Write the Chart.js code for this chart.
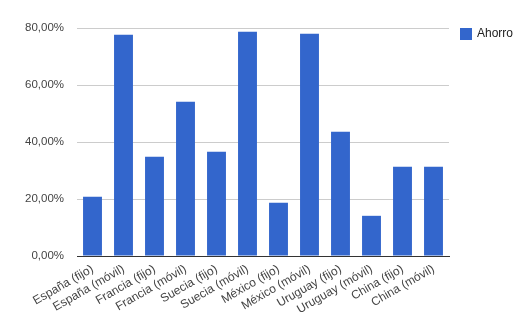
<!DOCTYPE html>
<html>
<head>
<meta charset="utf-8">
<script src="https://cdn.jsdelivr.net/npm/chart.js@4"></script>
<style>
  html, body { margin: 0; padding: 0; background: #fff; }
  #wrap { position: relative; width: 528px; height: 324px; }
</style>
</head>
<body>
<div id="wrap"><canvas id="c" width="528" height="324"></canvas></div>
<script>
const categories = ["España (fijo)", "España (móvil)", "Francia (fijo)", "Francia (móvil)", "Suecia (fijo)", "Suecia (móvil)", "México (fijo)", "México (móvil)", "Uruguay (fijo)", "Uruguay (móvil)", "China (fijo)", "China (móvil)"];
const ahorro = [20.8, 77.6, 34.8, 54.1, 36.6, 78.7, 18.7, 78.0, 43.6, 14.1, 31.3, 31.3];
const seriesName = "Ahorro";
const yTicks = [0, 20, 40, 60, 80];

const FONT = "'Liberation Sans', Arial, sans-serif";

const legendPlugin = {
  id: 'sideLegend',
  afterDraw(chart) {
    const ctx = chart.ctx;
    const ds = chart.data.datasets[0];
    ctx.save();
    ctx.fillStyle = ds.backgroundColor;
    ctx.fillRect(460, 28, 12, 12);
    ctx.fillStyle = '#222';
    ctx.font = "12px " + FONT;
    ctx.textBaseline = 'middle';
    ctx.textAlign = 'left';
    ctx.fillText(ds.label, 477, 34);
    ctx.restore();
  }
};

new Chart(document.getElementById('c'), {
  type: 'bar',
  data: {
    labels: categories,
    datasets: [{
      label: seriesName,
      data: ahorro,
      backgroundColor: '#3366cc',
      barPercentage: 0.61,
      categoryPercentage: 1.0
    }]
  },
  options: {
    responsive: false,
    animation: false,
    layout: { padding: { left: 0, right: 79, top: 28, bottom: 0 } },
    plugins: { legend: { display: false }, tooltip: { enabled: false } },
    scales: {
      x: {
        grid: { display: false, drawTicks: false },
        border: { display: true, color: '#333', width: 1 },
        ticks: {
          color: '#444',
          font: { family: FONT, size: 12 },
          minRotation: 30,
          maxRotation: 30,
          autoSkip: false,
          padding: 6
        },
        afterFit(scale) { scale.height = 324 - 256; }
      },
      y: {
        min: 0,
        max: 80,
        afterBuildTicks(scale) { scale.ticks = yTicks.map(v => ({ value: v })); },
        grid: {
          color: ctx => ctx.tick && ctx.tick.value === 0 ? '#333' : '#ccc',
          drawTicks: false
        },
        border: { display: false },
        ticks: {
          color: '#444',
          font: { family: FONT, size: 11.5 },
          padding: 13,
          callback: v => v.toFixed(2).replace('.', ',') + '%'
        },
        afterFit(scale) { scale.width = 77; }
      }
    }
  },
  plugins: [legendPlugin]
});
</script>
</body>
</html>
